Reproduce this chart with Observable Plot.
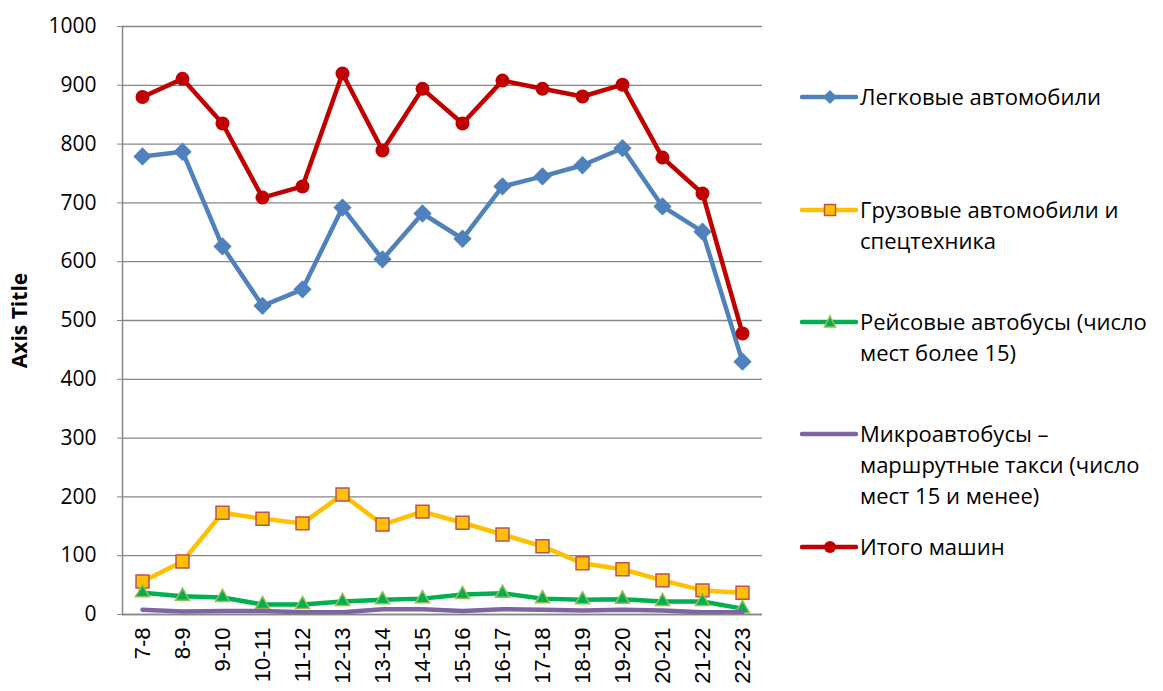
<!DOCTYPE html>
<html>
<head>
<meta charset="utf-8">
<script src="https://cdn.jsdelivr.net/npm/d3@7"></script>
<script src="https://cdn.jsdelivr.net/npm/@observablehq/plot@0.6"></script>
<style>
  html, body { margin: 0; padding: 0; background: #fff; }
  body { font-family: "Open Sans", sans-serif; }
  #wrap { position: relative; width: 1163px; height: 691px; }
  #chart { position: absolute; left: 0; top: 0; }
  #legend { position: absolute; left: 800px; top: 0; width: 363px; }
  .item { position: absolute; left: 0; display: flex; align-items: flex-start; }
  .item svg { flex: none; margin-top: 3px; }
  .item span { font-size: 22px; line-height: 31px; color: #000; margin-left: 2px; max-width: 296px; }
</style>
</head>
<body>
<div id="wrap">
  <div id="chart"></div>
  <div id="legend"></div>
</div>
<script>
const categories = ["7-8","8-9","9-10","10-11","11-12","12-13","13-14","14-15","15-16","16-17","17-18","18-19","19-20","20-21","21-22","22-23"];
const cars   = [779, 787, 626, 525, 553, 692, 604, 682, 639, 728, 745, 764, 793, 694, 651, 430];
const trucks = [56, 90, 173, 163, 155, 204, 153, 175, 156, 136, 116, 87, 77, 58, 41, 37];
const buses  = [37, 31, 29, 17, 17, 22, 25, 27, 34, 36, 27, 25, 26, 22, 22, 10];
const minibuses = [8, 5, 6, 6, 4, 4, 9, 9, 6, 9, 8, 7, 8, 7, 4, 4];
const total  = [880, 911, 835, 709, 728, 920, 789, 894, 835, 908, 894, 881, 901, 777, 716, 478];
const yTicks = [0, 100, 200, 300, 400, 500, 600, 700, 800, 900, 1000];
const seriesNames = [
  "Легковые автомобили",
  "Грузовые автомобили и спецтехника",
  "Рейсовые автобусы (число мест более 15)",
  "Микроавтобусы – маршрутные такси (число мест 15 и менее)",
  "Итого машин"
];
const yLabel = "Axis Title";

const mk = (vals) => categories.map((c, i) => ({cat: c, v: vals[i]}));
const dCars = mk(cars), dTrucks = mk(trucks), dBuses = mk(buses), dMini = mk(minibuses), dTotal = mk(total);

const chart = Plot.plot({
  width: 780,
  height: 691,
  marginLeft: 122,
  marginRight: 18,
  marginTop: 26,
  marginBottom: 77,
  style: {fontFamily: "'Open Sans', sans-serif", fontSize: "21px", color: "#000", background: "#fff"},
  x: {type: "point", domain: categories, padding: 0.5},
  y: {domain: [0, 1000], ticks: yTicks, tickFormat: d3.format("d")},
  marks: [
    Plot.gridY(yTicks, {stroke: "#868686", strokeOpacity: 1, strokeWidth: 1.3}),
    Plot.frame({anchor: "left", stroke: "#868686", strokeWidth: 1.5}),
    Plot.axisY(yTicks, {tickSize: 5, tickPadding: 21, stroke: "#868686", fill: "#000", fontSize: 21, tickFormat: d3.format("d"), label: null}),
    Plot.axisX({tickSize: 0, tickPadding: 13, tickRotate: -90, fontSize: 22, fontFamily: "'Liberation Sans', Arial, sans-serif", fill: "#000", label: null}),
    Plot.text([yLabel], {frameAnchor: "left", dx: -102, rotate: -90, textAnchor: "middle", fontWeight: "bold", fontSize: 21, fill: "#000"}),
    // cars
    Plot.line(dCars, {x: "cat", y: "v", stroke: "#4F81BD", strokeWidth: 4.5}),
    Plot.dot(dCars, {x: "cat", y: "v", symbol: "square", rotate: 45, r: 7.3, fill: "#4F81BD", stroke: "none"}),
    // trucks
    Plot.line(dTrucks, {x: "cat", y: "v", stroke: "#FFC000", strokeWidth: 4.5}),
    Plot.dot(dTrucks, {x: "cat", y: "v", symbol: "square", r: 7.3, fill: "#FFC000", stroke: "#C0504D", strokeWidth: 1.5}),
    // buses
    Plot.line(dBuses, {x: "cat", y: "v", stroke: "#00B050", strokeWidth: 4.5}),
    Plot.dot(dBuses, {x: "cat", y: "v", symbol: "triangle", r: 5.2, fill: "#00B050", stroke: "#9BBB59", strokeWidth: 1.5}),
    // minibuses
    Plot.line(dMini, {x: "cat", y: "v", stroke: "#8064A2", strokeWidth: 4.5}),
    // total
    Plot.line(dTotal, {x: "cat", y: "v", stroke: "#C00000", strokeWidth: 4.5}),
    Plot.dot(dTotal, {x: "cat", y: "v", symbol: "circle", r: 7, fill: "#C00000", stroke: "none"}),
    Plot.ruleY([0], {stroke: "#868686", strokeWidth: 1.5})
  ]
});
document.getElementById("chart").appendChild(chart);

// legend
const swatches = [
  {color: "#4F81BD", marker: '<path d="M30,6 L37,13 L30,20 L23,13 Z" fill="#4F81BD"/>'},
  {color: "#FFC000", marker: '<rect x="24.5" y="7.5" width="11" height="11" fill="#FFC000" stroke="#C0504D" stroke-width="1.5"/>'},
  {color: "#00B050", marker: '<path d="M30,7 L35.5,18 L24.5,18 Z" fill="#00B050" stroke="#9BBB59" stroke-width="1.5"/>'},
  {color: "#8064A2", marker: ''},
  {color: "#C00000", marker: '<circle cx="30" cy="13" r="6" fill="#C00000"/>'}
];
const tops = [81, 194, 306, 418, 531];
const legend = document.getElementById("legend");
seriesNames.forEach((name, i) => {
  const div = document.createElement("div");
  div.className = "item";
  div.style.top = tops[i] + "px";
  div.innerHTML = `<svg width="58" height="26"><line x1="2" y1="13" x2="56" y2="13" stroke="${swatches[i].color}" stroke-width="4.5" stroke-linecap="round"/>${swatches[i].marker}</svg><span>${name}</span>`;
  legend.appendChild(div);
});
</script>
</body>
</html>
